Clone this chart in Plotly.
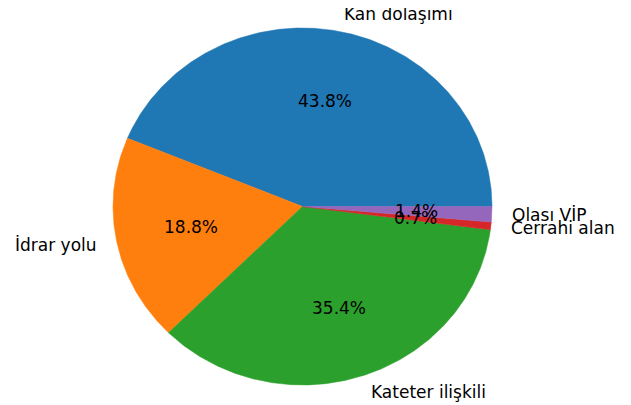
import numpy as np
import plotly.graph_objects as go

labels = ["Kan dolaşımı", "İdrar yolu", "Kateter ilişkili", "Cerrahi alan", "Olası VİP"]
counts = [63, 27, 51, 1, 2]
colors = ["#1f77b4", "#ff7f0e", "#2ca02c", "#d62728", "#9467bd"]

# page body has an 8px default margin; compensate
OFF = 8
W, H = 631 - OFF, 405 - OFF
cx_px, cy_px = 302.5 - OFF, 206.5 - OFF
rx_px, ry_px = 189.5, 178.5

xr = [-cx_px / rx_px, (W - cx_px) / rx_px]
yr = [-(H - cy_px) / ry_px, cy_px / ry_px]

total = float(sum(counts))
fig = go.Figure()
annotations = []
font = dict(family="DejaVu Sans", size=17, color="black")

start = 0.0
for lab, c, col in zip(labels, counts, colors):
    span = c / total * 360.0
    end = start + span
    n = max(int(span * 2), 2)
    th = np.radians(np.linspace(start, end, n + 1))
    xs = np.concatenate([[0.0], np.cos(th), [0.0]])
    ys = np.concatenate([[0.0], np.sin(th), [0.0]])
    fig.add_trace(go.Scatter(x=xs, y=ys, mode="lines", fill="toself",
                             fillcolor=col, line=dict(color=col, width=0.5),
                             hoverinfo="skip", showlegend=False))
    mid = np.radians((start + end) / 2)
    lx, ly = 1.1 * np.cos(mid), 1.1 * np.sin(mid)
    annotations.append(dict(x=lx, y=ly, text=lab, showarrow=False,
                            xanchor="left" if lx > 0 else "right", yanchor="middle",
                            font=font, borderpad=0))
    px, py = 0.6 * np.cos(mid), 0.6 * np.sin(mid)
    annotations.append(dict(x=px, y=py, text=f"{c / total * 100:.1f}%", showarrow=False,
                            xanchor="center", yanchor="middle", font=font, borderpad=0))
    start = end

fig.update_layout(
    width=W, height=H,
    margin=dict(l=0, r=0, t=0, b=0),
    paper_bgcolor="white", plot_bgcolor="white",
    xaxis=dict(range=xr, visible=False, fixedrange=True),
    yaxis=dict(range=yr, visible=False, fixedrange=True),
    annotations=annotations,
    showlegend=False,
)
fig.write_html("out.html")
